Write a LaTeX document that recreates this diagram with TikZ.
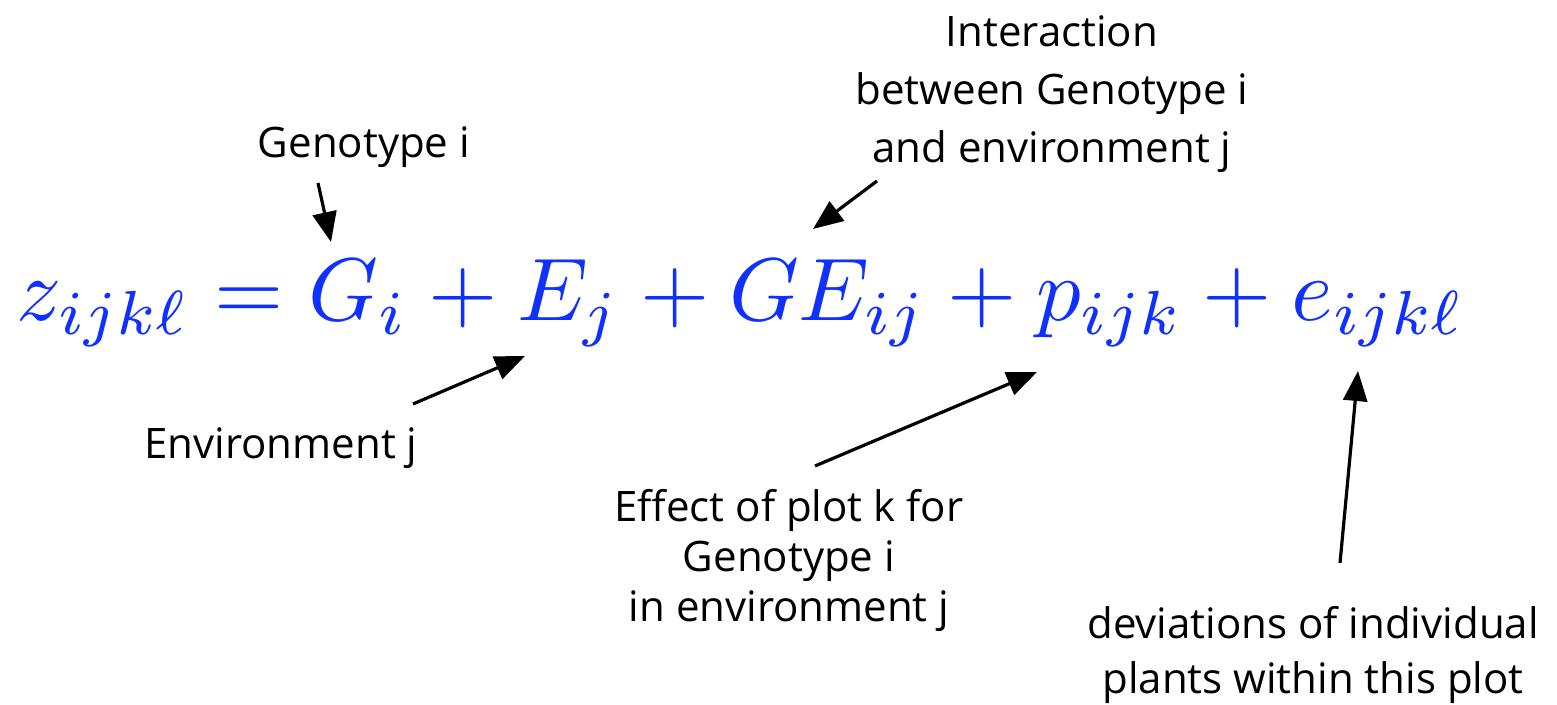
\documentclass[tikz,border=0pt]{standalone}
\usepackage{amsmath}
\usepackage{fontspec}
\setmainfont{Open Sans}
\usepackage{tikz}
\usetikzlibrary{arrows.meta}
\definecolor{eqBlue}{HTML}{1030FF}

\begin{document}
\begin{tikzpicture}[x=0.5pt, y=-0.5pt,
  note/.style={align=center, inner sep=0pt, text=black},
  pointer/.style={-{Triangle[length=15pt, width=12pt]}, line width=1.6pt},
]
  \useasboundingbox (0,0) rectangle (1557,705);

  % the model
  \node[anchor=base west, inner sep=0pt, text=eqBlue, scale=4.45, transform shape]
    (eq) at (15,321) {$z_{ijk\ell} = G_i + E_j + GE_{ij} + p_{ijk} + e_{ijk\ell}$};

  % labels
  \node[note, font=\fontsize{21}{29}\selectfont] (geno) at (364,147) {Genotype i};
  \node[note, font=\fontsize{21}{29}\selectfont] (inter) at (1052,94)
    {Interaction\\between Genotype i\\and environment j};
  \node[note, font=\fontsize{21}{29}\selectfont] (envj) at (281,448) {Environment j};
  \node[note, font=\fontsize{21}{25}\selectfont] (plotk) at (789,560)
    {Effect of plot k for\\Genotype i\\in environment j};
  \node[note, font=\fontsize{21}{27.5}\selectfont] (devi) at (1313,655)
    {deviations of individual\\plants within this plot};

  % arrow ends
  \coordinate (genoS) at (318,183);  \coordinate (genoT) at (331,242);
  \coordinate (interS) at (877,181); \coordinate (interT) at (813,229);
  \coordinate (envjS) at (413,404);  \coordinate (envjT) at (525,356);
  \coordinate (plotkS) at (815,466); \coordinate (plotkT) at (1037,372);
  \coordinate (deviS) at (1340,563); \coordinate (deviT) at (1358,371);

  \draw[pointer] (genoS) -- (genoT);
  \draw[pointer] (interS) -- (interT);
  \draw[pointer] (envjS) -- (envjT);
  \draw[pointer] (plotkS) -- (plotkT);
  \draw[pointer] (deviS) -- (deviT);
\end{tikzpicture}
\end{document}
